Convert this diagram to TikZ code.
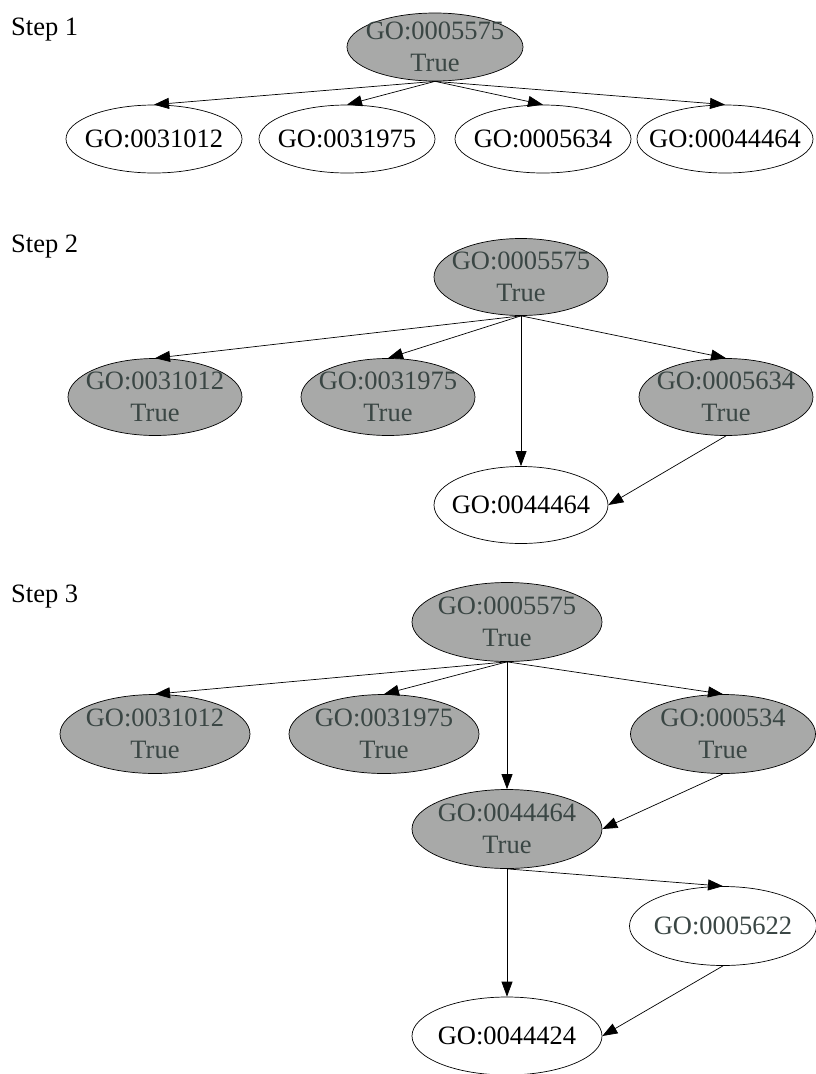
\documentclass[tikz,border=0pt]{standalone}
\usepackage{fontspec}
\setmainfont{Liberation Serif}
\usetikzlibrary{arrows.meta,shapes.geometric}
\definecolor{go-gray}{RGB}{168,169,168}
\definecolor{go-ink}{RGB}{58,70,68}

\begin{document}
\begin{tikzpicture}[x=1pt, y=-1pt,
          term/.style={
            ellipse, draw=black, fill=white, line width=0.7pt,
            inner sep=0pt},
          done/.style={term, fill=go-gray},
          s1/.style={minimum width=176pt, minimum height=68pt},
          s2/.style={minimum width=174pt, minimum height=77pt},
          s3/.style={minimum width=190pt, minimum height=79pt},
          txt/.style={
            font=\fontsize{26.5}{32}\selectfont, align=center,
            inner sep=0pt, text=black},
          inktxt/.style={txt, text=go-ink},
          steplabel/.style={anchor=base west, inner sep=0pt,
            font=\fontsize{26.5}{32}\selectfont},
          arr/.style={-{Triangle[length=15pt, width=11pt]}, line width=0.7pt}
        ]
        \useasboundingbox (0,0) rectangle (816,1074);

        % step 1
        \node[steplabel] (step1) at (11,35) {Step 1};
        \node[done, s1, label={[inktxt]center:GO:0005575\\True}] (rootA) at (435,47) {};
        \node[term, s1, label={[txt]center:GO:0031012}] (a1) at (154,139) {};
        \node[term, s1, label={[txt]center:GO:0031975}] (a2) at (347,139) {};
        \node[term, s1, label={[txt]center:GO:0005634}] (a3) at (543,139) {};
        \node[term, s1, label={[txt]center:GO:00044464}] (a4) at (725,139) {};
        \draw[arr] (rootA.south) -- (a1.north);
        \draw[arr] (rootA.south) -- (a2.north);
        \draw[arr] (rootA.south) -- (a3.north);
        \draw[arr] (rootA.south) -- (a4.north);

        % step 2
        \node[steplabel] (step2) at (11,252) {Step 2};
        \node[done, s2, label={[inktxt]center:GO:0005575\\True}] (rootB) at (521,277) {};
        \node[done, s2, label={[inktxt]center:GO:0031012\\True}] (b1) at (155,397) {};
        \node[done, s2, label={[inktxt]center:GO:0031975\\True}] (b2) at (388,397) {};
        \node[done, s2, label={[inktxt]center:GO:0005634\\True}] (b3) at (726,397) {};
        \node[term, s2, label={[txt]center:GO:0044464}] (b4) at (521,505) {};
        \draw[arr] (rootB.south) -- (b1.north);
        \draw[arr] (rootB.south) -- (b2.north);
        \draw[arr] (rootB.south) -- (b3.north);
        \draw[arr] (rootB.south) -- (b4.north);
        \draw[arr] (b3.south) -- (b4.east);

        % step 3
        \node[steplabel] (step3) at (11,602) {Step 3};
        \node[done, s3, label={[inktxt]center:GO:0005575\\True}] (rootC) at (507,622) {};
        \node[done, s3, label={[inktxt]center:GO:0031012\\True}] (c1) at (155,734) {};
        \node[done, s3, label={[inktxt]center:GO:0031975\\True}] (c2) at (384,734) {};
        \node[done, s3, minimum width=185pt, label={[inktxt]center:GO:000534\\True}] (c3) at (723,734) {};
        \node[done, s3, label={[inktxt]center:GO:0044464\\True}] (c4) at (507,829) {};
        \node[term, s3, minimum width=187pt, label={[inktxt]center:GO:0005622}] (c5) at (723,926) {};
        \node[term, s3, minimum height=78pt, label={[txt]center:GO:0044424}] (c6) at (507,1036) {};
        \draw[arr] (rootC.south) -- (c1.north);
        \draw[arr] (rootC.south) -- (c2.north);
        \draw[arr] (rootC.south) -- (c3.north);
        \draw[arr] (rootC.south) -- (c4.north);
        \draw[arr] (c3.south) -- (c4.east);
        \draw[arr] (c4.south) -- (c5.north);
        \draw[arr] (c4.south) -- (c6.north);
        \draw[arr] (c5.south) -- (c6.east);
      \end{tikzpicture}
\end{document}
